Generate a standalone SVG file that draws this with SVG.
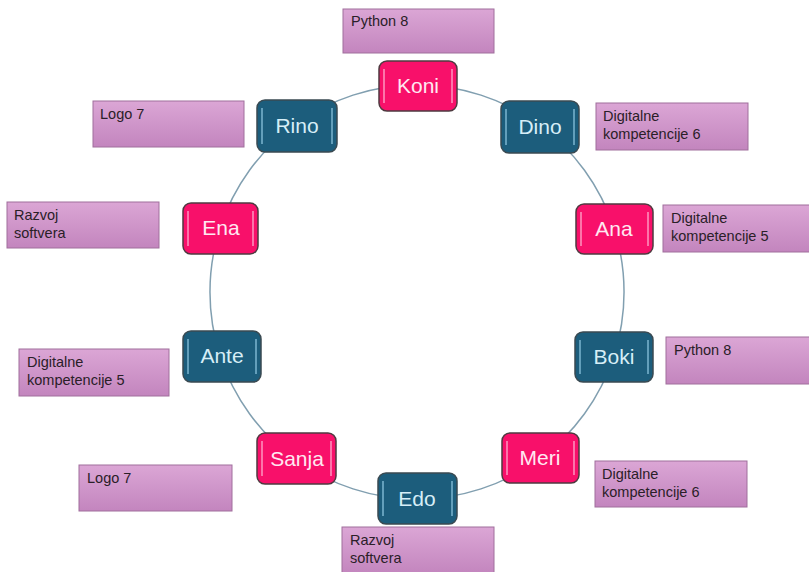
<svg xmlns="http://www.w3.org/2000/svg" width="809" height="572" viewBox="0 0 809 572">
<defs>
<linearGradient id="lbl" x1="0" y1="0" x2="0" y2="1">
<stop offset="0" stop-color="#dba6d5"/>
<stop offset="1" stop-color="#c385be"/>
</linearGradient>
<style>
.lb{fill:url(#lbl);stroke:#a06e9c;stroke-width:1}
.lt{font-family:"Liberation Sans",Arial,sans-serif;font-size:14.5px;fill:#2a2028}
.pk{fill:#f8106a;stroke:#4e3a40;stroke-width:1.5}
.tl{fill:#1c5d7c;stroke:#3a4a52;stroke-width:1.5}
.hp{stroke:#ffb8d4;stroke-width:1.5;fill:none;opacity:0.8}
.ht{stroke:#93cce6;stroke-width:1.5;fill:none;opacity:0.8}
.nt{font-family:"Liberation Sans",Arial,sans-serif;font-size:21px;text-anchor:middle}
.np{fill:#ffe8f1}
.nb{fill:#d6eef7}
.cn{fill:none;stroke:#819fb0;stroke-width:1.5}
</style>
</defs>
<rect width="809" height="572" fill="#ffffff"/>

<g id="connectors">
<path class="cn" d="M417,85 A207,207 0 0 1 538.7,124.5"/>
<path class="cn" d="M538.7,124.5 A207,207 0 0 1 613.9,228"/>
<path class="cn" d="M613.9,228 A207,207 0 0 1 613.9,356"/>
<path class="cn" d="M613.9,356 A207,207 0 0 1 538.7,459.5"/>
<path class="cn" d="M538.7,459.5 A207,207 0 0 1 417,499"/>
<path class="cn" d="M417,499 A207,207 0 0 1 295.3,459.5"/>
<path class="cn" d="M295.3,459.5 A207,207 0 0 1 220.1,356"/>
<path class="cn" d="M220.1,356 A207,207 0 0 1 220.1,228"/>
<path class="cn" d="M220.1,228 A207,207 0 0 1 295.3,124.5"/>
<path class="cn" d="M295.3,124.5 A207,207 0 0 1 417,85"/>
</g>

<g id="label-python8-top"><rect class="lb" x="343" y="9" width="151" height="44"/><text class="lt" x="351" y="26">Python 8</text></g>
<g id="label-logo7-top"><rect class="lb" x="93" y="101" width="151" height="46"/><text class="lt" x="100" y="119">Logo 7</text></g>
<g id="label-dig6-top"><rect class="lb" x="596" y="103" width="152" height="47"/><text class="lt" x="603" y="121">Digitalne</text><text class="lt" x="603" y="139">kompetencije 6</text></g>
<g id="label-razvoj-left"><rect class="lb" x="7" y="202" width="152" height="46"/><text class="lt" x="14" y="220">Razvoj</text><text class="lt" x="14" y="238">softvera</text></g>
<g id="label-dig5-right"><rect class="lb" x="663" y="205" width="150" height="47"/><text class="lt" x="671" y="223">Digitalne</text><text class="lt" x="671" y="241">kompetencije 5</text></g>
<g id="label-dig5-left"><rect class="lb" x="19" y="349" width="150" height="47"/><text class="lt" x="27" y="367">Digitalne</text><text class="lt" x="27" y="385">kompetencije 5</text></g>
<g id="label-python8-right"><rect class="lb" x="666" y="337" width="150" height="47"/><text class="lt" x="674" y="355">Python 8</text></g>
<g id="label-logo7-bottom"><rect class="lb" x="79" y="465" width="153" height="46"/><text class="lt" x="87" y="483">Logo 7</text></g>
<g id="label-dig6-bottom"><rect class="lb" x="595" y="461" width="152" height="46"/><text class="lt" x="602" y="479">Digitalne</text><text class="lt" x="602" y="497">kompetencije 6</text></g>
<g id="label-razvoj-bottom"><rect class="lb" x="342" y="527" width="152" height="47"/><text class="lt" x="350" y="545">Razvoj</text><text class="lt" x="350" y="563">softvera</text></g>

<g id="node-koni"><rect class="pk" x="379" y="61" width="78" height="50" rx="8"/><path class="hp" d="M384,69V103M452,69V103"/><text class="nt np" x="418" y="93">Koni</text></g>
<g id="node-dino"><rect class="tl" x="501" y="101" width="78" height="52" rx="8"/><path class="ht" d="M506,109V145M574,109V145"/><text class="nt nb" x="540" y="134">Dino</text></g>
<g id="node-ana"><rect class="pk" x="576" y="204" width="77" height="50" rx="8"/><path class="hp" d="M581,212V246M648,212V246"/><text class="nt np" x="614" y="236">Ana</text></g>
<g id="node-boki"><rect class="tl" x="575" y="332" width="78" height="50" rx="8"/><path class="ht" d="M580,340V374M648,340V374"/><text class="nt nb" x="614" y="364">Boki</text></g>
<g id="node-meri"><rect class="pk" x="502" y="433" width="77" height="50" rx="8"/><path class="hp" d="M507,441V475M574,441V475"/><text class="nt np" x="540" y="465">Meri</text></g>
<g id="node-edo"><rect class="tl" x="378" y="473" width="79" height="51" rx="8"/><path class="ht" d="M383,481V516M452,481V516"/><text class="nt nb" x="417" y="506">Edo</text></g>
<g id="node-sanja"><rect class="pk" x="257" y="433" width="79" height="51" rx="8"/><path class="hp" d="M262,441V476M331,441V476"/><text class="nt np" x="297" y="466">Sanja</text></g>
<g id="node-ante"><rect class="tl" x="183" y="331" width="78" height="51" rx="8"/><path class="ht" d="M188,339V374M256,339V374"/><text class="nt nb" x="222" y="363">Ante</text></g>
<g id="node-ena"><rect class="pk" x="183" y="203" width="75" height="51" rx="8"/><path class="hp" d="M188,211V246M253,211V246"/><text class="nt np" x="221" y="235">Ena</text></g>
<g id="node-rino"><rect class="tl" x="257" y="100" width="80" height="52" rx="8"/><path class="ht" d="M262,108V144M332,108V144"/><text class="nt nb" x="297" y="133">Rino</text></g>
</svg>
